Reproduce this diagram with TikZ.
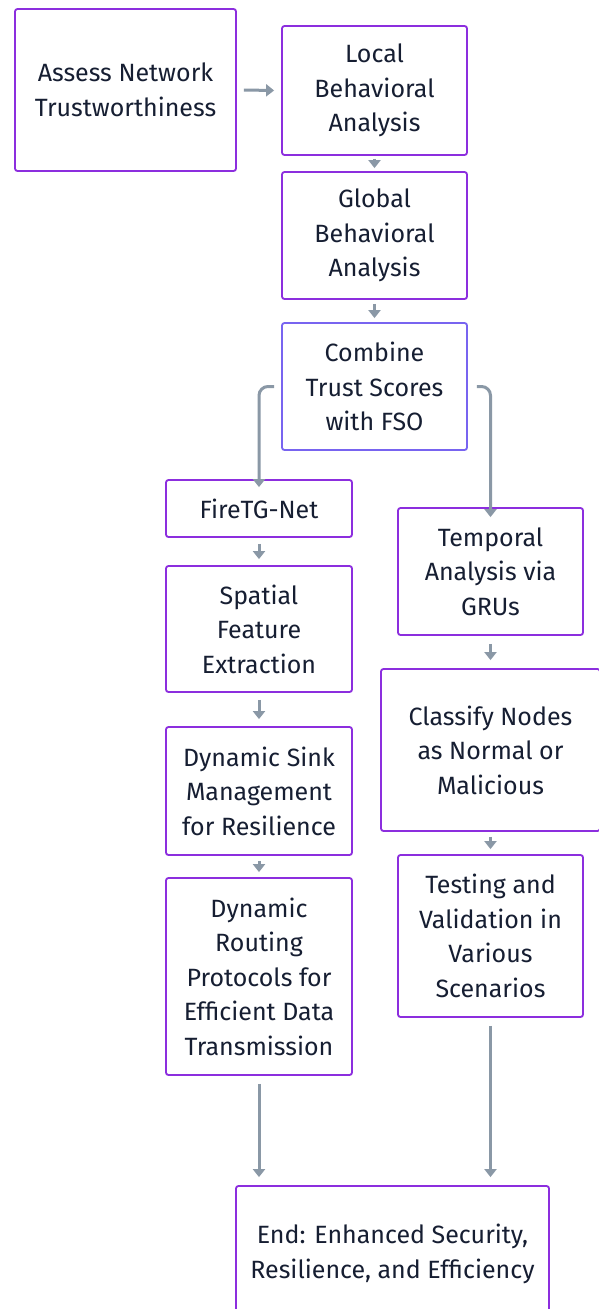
\documentclass[tikz,border=0pt]{standalone}
\usepackage{fontspec}
\setmainfont{Fira Sans}
\usetikzlibrary{arrows.meta}
\definecolor{boxline}{RGB}{140,46,222}
\definecolor{boxlineb}{RGB}{120,100,240}
\definecolor{txt}{RGB}{22,30,50}
\definecolor{arr}{RGB}{138,152,166}
\tikzset{
  stepbox/.style={draw=boxline, line width=1.8pt, rounded corners=2.5pt, fill=white,
    align=center, text=txt, font=\fontsize{25}{34.5}\selectfont, inner sep=0pt},
  flow/.style={draw=arr, line width=3pt, -{Triangle[length=8pt,width=12pt]}},
}
\begin{document}
\begin{tikzpicture}[x=1pt,y=-1pt]
\useasboundingbox (0,0) rectangle (598,1309);
\fill[white] (0,0) rectangle (598,1309);
% main chain
\node[stepbox, minimum width=221pt, minimum height=162pt] (assess) at (125.5,90) {Assess Network\\Trustworthiness};
\node[stepbox, minimum width=185pt, minimum height=129pt] (local) at (374.5,90.5) {Local\\Behavioral\\Analysis};
\node[stepbox, minimum width=185pt, minimum height=127pt] (global) at (374.5,235.5) {Global\\Behavioral\\Analysis};
\node[stepbox, draw=boxlineb, minimum width=185pt, minimum height=127pt] (combine) at (374.5,386.5) {Combine\\Trust Scores\\with FSO};
% left branch
\node[stepbox, minimum width=186pt, minimum height=57pt] (fire) at (259,508.5) {FireTG-Net};
\node[stepbox, minimum width=186pt, minimum height=126pt] (spatial) at (259,629) {Spatial\\Feature\\Extraction};
\node[stepbox, minimum width=186pt, minimum height=128pt] (sink) at (259,791) {Dynamic Sink\\Management\\for Resilience};
\node[stepbox, minimum width=186pt, minimum height=197pt] (routing) at (259,976.5) {Dynamic\\Routing\\Protocols for\\Efficient Data\\Transmission};
% right branch
\node[stepbox, minimum width=185pt, minimum height=127pt] (temporal) at (490.5,571.5) {Temporal\\Analysis via\\GRUs};
\node[stepbox, minimum width=219pt, minimum height=162pt] (classify) at (490.5,750) {Classify Nodes\\as Normal or\\Malicious};
\node[stepbox, minimum width=185pt, minimum height=162pt] (testing) at (490.5,936) {Testing and\\Validation in\\Various\\Scenarios};
% end
\node[stepbox, minimum width=313pt, minimum height=136pt] (endbox) at (392.5,1254) {End: Enhanced Security,\\Resilience, and Efficiency};
% connectors
\draw[flow] ([xshift=7pt]assess.east) -- ([xshift=-7pt]local.west);
\draw[flow] ([yshift=-3pt]local.south) -- ([yshift=3pt]global.north);
\draw[flow] ([yshift=-4pt]global.south) -- ([yshift=4pt]combine.north);
\draw[flow, rounded corners=9pt] ([xshift=-7pt]combine.west) -| ([yshift=-8pt]fire.north);
\draw[flow, rounded corners=9pt] ([xshift=9pt]combine.east) -| ([yshift=-10pt]temporal.north);
\draw[flow] ([yshift=-6pt]fire.south) -- ([yshift=6pt]spatial.north);
\draw[flow] ([yshift=-7pt]spatial.south) -- ([yshift=7pt]sink.north);
\draw[flow] ([yshift=-5pt]sink.south) -- ([yshift=5pt]routing.north);
\draw[flow] ([yshift=-8pt]temporal.south) -- ([yshift=8pt]classify.north);
\draw[flow] ([yshift=-5pt]classify.south) -- ([yshift=5pt]testing.north);
\draw[flow] ([yshift=-8pt]routing.south) -- ([yshift=8pt]routing.south |- endbox.north);
\draw[flow] ([yshift=-8pt]testing.south) -- ([yshift=8pt]testing.south |- endbox.north);
\end{tikzpicture}
\end{document}
